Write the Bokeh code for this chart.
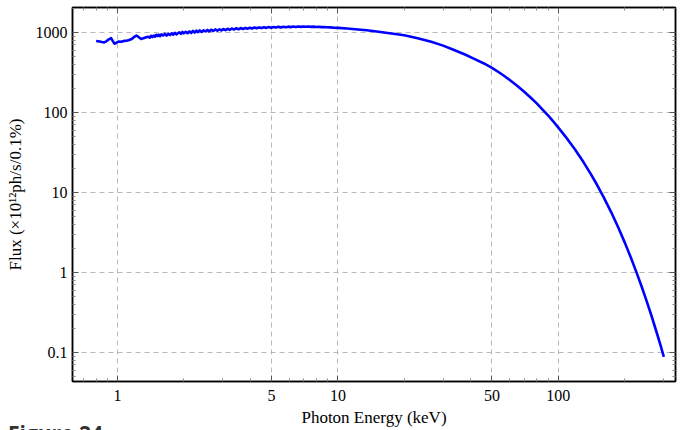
from bokeh.plotting import figure
from bokeh.layouts import column
from bokeh.models import (FixedTicker, LogAxis, Range1d, ColumnDataSource,
                          CustomJSTickFormatter, Div)
from bokeh.embed import file_html
from bokeh.resources import INLINE

# Photon energy (keV) and flux (x10^12 ph/s/0.1%)
energy = [0.80, 0.83, 0.85, 0.87, 0.89, 0.91, 0.935, 0.95, 0.97, 0.99,
          1.01, 1.04, 1.07, 1.10, 1.13, 1.16, 1.19, 1.22, 1.25, 1.28,
          1.31, 1.35, 1.38, 1.40, 1.42, 1.44, 1.46, 1.48, 1.50, 1.52,
          1.54, 1.56, 1.58, 1.61, 1.64, 1.67, 1.70, 1.73, 1.76, 1.79,
          1.82, 1.85, 1.88, 1.91, 1.94, 1.97, 2.00, 2.04, 2.08, 2.12,
          2.16, 2.20, 2.24, 2.28, 2.32, 2.36, 2.41, 2.46, 2.51, 2.56,
          2.61, 2.66, 2.72, 2.78, 2.84, 2.90, 2.96, 3.02, 3.09, 3.16,
          3.23, 3.30, 3.38, 3.46, 3.54, 3.62, 3.71, 3.80, 3.89, 3.98,
          4.08, 4.18, 4.28, 4.39, 4.50, 4.61, 4.73, 4.85, 4.97, 5.10,
          5.23, 5.37, 5.51, 5.65, 5.80, 5.95, 6.11, 6.27, 6.44, 6.61,
          6.79, 6.97, 7.16, 7.35, 7.55, 7.76, 7.97, 8.19, 8.42, 8.65,
          8.9, 9.2, 9.5, 10, 11, 12, 13.5, 15, 16.2, 20,
          23, 26.5, 30, 33, 37.5, 42, 46, 50, 55, 60,
          65, 70, 75, 80, 85, 90, 95, 100, 110, 118.6,
          130, 140, 150, 160, 174, 187, 200, 213, 226, 240,
          252, 265, 280, 290, 301]
flux = [785, 770, 760, 752, 775, 815, 850, 790, 725, 745,
        770, 765, 785, 790, 805, 830, 880, 915, 870, 830,
        845, 870, 885, 862, 908, 878, 915, 885, 936, 900,
        940, 898, 946, 918, 958, 912, 965, 928, 975, 938,
        992, 945, 982, 1005, 960, 1015, 975, 1020, 978, 1032,
        988, 1048, 998, 1052, 1008, 1060, 1015, 1066, 1028, 1078,
        1032, 1082, 1045, 1092, 1052, 1097, 1060, 1106, 1070, 1114,
        1080, 1122, 1088, 1130, 1096, 1136, 1104, 1142, 1112, 1148,
        1120, 1154, 1128, 1158, 1135, 1163, 1142, 1168, 1148, 1172,
        1154, 1176, 1158, 1180, 1163, 1183, 1167, 1186, 1171, 1188,
        1175, 1189, 1177, 1187, 1176, 1185, 1172, 1179, 1166, 1171,
        1162, 1158, 1150, 1142, 1120, 1100, 1065, 1030, 1000, 922,
        848, 765, 685, 618, 535, 462, 410, 362, 305, 256.5,
        216, 182, 153, 129, 108, 91.2, 76.8, 64.6, 46.4, 34.9,
        24.0, 17.2, 12.4, 8.9, 5.61, 3.65, 2.38, 1.55, 1.01, 0.64,
        0.433, 0.284, 0.174, 0.126, 0.088]

x_major = [1, 5, 10, 50, 100]
x_minor = [0.7, 0.8, 0.9, 2, 3, 4, 6, 7, 8, 9, 20, 30, 40, 60, 70, 80, 90, 200, 300]
y_major = [0.1, 1, 10, 100, 1000]
y_minor = [m * d for d in (0.01, 0.1, 1, 10, 100, 1000) for m in range(2, 10)]

x_label = "Photon Energy (keV)"
y_label = "Flux (×10¹²ph/s/0.1%)"
caption = "Figure 24"

FONT = "Liberation Serif"

p = figure(width=683, height=430, x_axis_type="log", y_axis_type="log",
           x_range=Range1d(0.625, 340), y_range=Range1d(0.0434, 2053),
           output_backend="svg", toolbar_location=None,
           min_border_left=72, min_border_right=8, min_border_top=7,
           min_border_bottom=49, outline_line_color="black",
           outline_line_width=1.5)

src = ColumnDataSource(dict(x=energy, y=flux))
p.line("x", "y", source=src, line_color="#0000ff", line_width=2.6,
       line_join="round")

def base_style(ax):
    ax.axis_line_color = "black"
    ax.axis_line_width = 1.5
    ax.major_tick_in = 6
    ax.major_tick_out = 0
    ax.minor_tick_in = 3
    ax.minor_tick_out = 0
    ax.major_tick_line_color = "#555555"
    ax.minor_tick_line_color = "#888888"

xa = p.xaxis[0]
ya = p.yaxis[0]
xa.ticker = FixedTicker(ticks=x_major, minor_ticks=x_minor)
ya.ticker = FixedTicker(ticks=y_major, minor_ticks=y_minor)
for ax in (xa, ya):
    base_style(ax)
    ax.major_label_text_font = FONT
    ax.major_label_text_font_size = "16px"
    ax.major_label_text_color = "black"
    ax.axis_label_text_font = FONT
    ax.axis_label_text_font_size = "17px"
    ax.axis_label_text_font_style = "normal"
    ax.axis_label_text_color = "black"
xa.major_label_overrides = {1: "1", 5: "5", 10: "10", 50: "50", 100: "100"}
ya.major_label_overrides = {0.1: "0.1", 1: "1", 10: "10", 100: "100", 1000: "1000"}
xa.axis_label = x_label
ya.axis_label = y_label
xa.major_label_standoff = 8
xa.axis_label_standoff = 4
ya.major_label_standoff = 5
ya.axis_label_standoff = 8

top = LogAxis(ticker=FixedTicker(ticks=x_major, minor_ticks=x_minor),
              formatter=CustomJSTickFormatter(code="return ''"))
right = LogAxis(ticker=FixedTicker(ticks=y_major, minor_ticks=y_minor),
                formatter=CustomJSTickFormatter(code="return ''"))
for ax in (top, right):
    base_style(ax)
    ax.major_label_standoff = 0
p.add_layout(top, "above")
p.add_layout(right, "right")

p.xgrid.ticker = FixedTicker(ticks=x_major)
p.ygrid.ticker = FixedTicker(ticks=y_major)
for g in (p.xgrid[0], p.ygrid[0]):
    g.grid_line_color = "#b8b8b8"
    g.grid_line_dash = "5 4"
    g.grid_line_width = 1

p.background_fill_color = "white"
p.border_fill_color = "white"

cap = Div(text=caption, width=130, height=0,
          styles={"position": "absolute", "left": "8px", "top": "420px",
                  "margin": "0", "font-family": "Open Sans",
                  "font-weight": "bold", "font-size": "21px",
                  "color": "#333333", "line-height": "1.3",
                  "overflow": "visible", "z-index": "5"})

layout = column(p, cap, spacing=0)

open("out.html", "w").write(file_html(layout, INLINE))
